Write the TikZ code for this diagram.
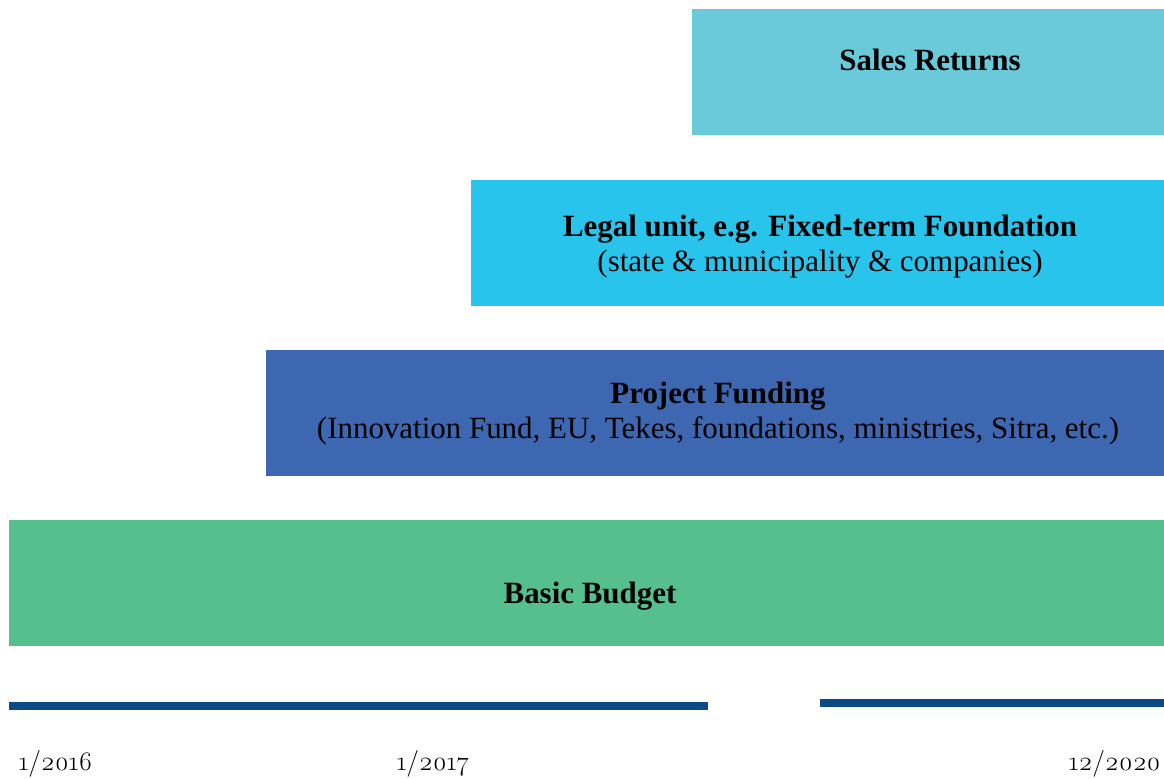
\documentclass[tikz,border=0pt]{standalone}
\usepackage{fontspec}
\setmainfont{Liberation Serif}
\newfontfamily\datefont[Numbers=OldStyle]{Latin Modern Roman}
\definecolor{salescol}{HTML}{6BCAD9}
\definecolor{legalcol}{HTML}{29C4EC}
\definecolor{projcol}{HTML}{3E67B1}
\definecolor{basiccol}{HTML}{55BF8D}
\definecolor{barcol}{HTML}{0B4A84}

\begin{document}
\begin{tikzpicture}[x=0.025cm,y=-0.025cm,
  box/.style={rectangle,inner sep=0pt,minimum height=3.15cm},
  title/.style={font=\fontsize{22}{26}\selectfont\bfseries},
  sub/.style={font=\fontsize{22}{26}\selectfont},
  date/.style={anchor=west,font=\datefont\fontsize{19}{22}\selectfont},
  bar/.style={barcol,line width=5.5pt}]
  \useasboundingbox (0,0) rectangle (1164,778);

  \node[box,fill=salescol,minimum width=11.8cm] (sales) at (928,72) {};
  \node[box,fill=legalcol,minimum width=17.325cm] (legal) at (817.5,243) {};
  \node[box,fill=projcol,minimum width=22.45cm] (proj) at (715,413) {};
  \node[box,fill=basiccol,minimum width=28.875cm] (basic) at (586.5,583) {};

  \node[title] (salest) at (930,60) {Sales Returns};
  \node[title] (legalt) at (820,229) {Legal unit, e.g. Fixed-term Foundation};
  \node[sub] (legals) at (820,264) {(state \& municipality \& companies)};
  \node[title] (projt) at (718,396) {Project Funding};
  \node[sub] (projs) at (718,431) {(Innovation Fund, EU, Tekes, foundations, ministries, Sitra, etc.)};
  \node[title] (basict) at (590,596) {Basic Budget};

  \draw[bar] (9,706) -- (708,706);
  \draw[bar] (820,703) -- (1164,703);

  \node[date] (d2016) at (14,764) {1/2016};
  \node[date] (d2017) at (392,764) {1/2017};
  \node[date] (d2020) at (1064,764) {12/2020};
\end{tikzpicture}
\end{document}
